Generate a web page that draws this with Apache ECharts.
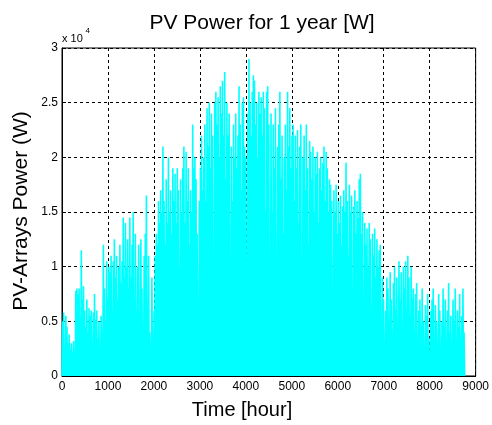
<!DOCTYPE html>
<html>
<head>
<meta charset="utf-8">
<script src="https://cdn.jsdelivr.net/npm/echarts@6/dist/echarts.min.js"></script>
<style>html,body{margin:0;padding:0;background:#fff}#c{width:492px;height:425px}</style>
</head>
<body>
<div id="c"></div>
<script>
// Daily peak PV power, in units of 10^4 W (day 0 .. 364)
var peaksDays000_061 = [0.5,0.58,0.25,0.55,0.45,0.3,0.38,0.25,0.3,0.22,0.32,0.18,0.78,0.8,0.75,0.8,0.55,1.15,0.7,0.82,0.6,0.45,0.7,0.4,0.62,0.55,0.6,0.3,0.58,0.75,0.52,0.6,0.35,0.5,0.25,0.55,0.4,1.2,0.8,0.5,1.05,0.7,1.0,0.95,1.1,0.6,1.05,1.25,0.9,1.1,0.7,1.0,1.2,0.85,1.05,1.45,0.9,1.4,1.0,1.25,0.8,1.45];
var peaksDays062_124 = [0.9,1.2,1.5,0.7,1.3,0.6,1.0,1.2,0.5,1.25,0.8,0.45,1.1,1.3,1.65,0.5,1.1,0.4,0.25,0.9,0.3,0.6,1.1,1.3,1.2,1.6,1.4,1.7,1.5,2.1,1.6,1.2,1.8,1.4,2.0,1.5,1.7,1.3,1.9,1.6,1.85,1.4,1.9,1.7,1.0,1.8,1.5,1.9,2.1,1.4,2.05,1.6,1.9,1.2,1.7,1.5,2.3,1.9,2.0,1.8,1.3,0.55,1.6];
var peaksDays125_187 = [1.9,2.2,1.7,2.0,2.3,1.6,2.45,2.1,2.5,1.9,2.4,2.2,1.0,2.5,2.6,2.3,2.55,2.0,2.65,2.4,2.7,2.2,2.78,1.8,2.5,2.2,2.4,1.0,2.1,1.6,2.3,2.0,2.4,1.9,2.2,2.65,2.3,1.7,2.5,2.55,2.1,2.0,0.55,2.4,2.9,2.5,2.2,2.6,2.75,2.7,2.3,2.5,2.0,2.6,2.4,2.55,2.2,2.6,2.45,1.5,2.6,2.65,2.3];
var peaksDays188_250 = [0.45,2.4,1.5,2.3,1.9,2.45,0.9,2.1,2.3,2.6,1.8,2.2,1.3,2.0,2.3,1.7,2.6,2.1,2.45,1.9,2.2,2.3,1.6,2.2,1.9,2.25,1.4,2.1,2.3,1.1,2.0,2.2,1.7,2.3,1.9,1.2,2.15,2.05,1.8,2.1,1.5,2.0,1.85,2.05,1.4,1.9,2.0,1.7,1.95,2.1,1.6,2.05,1.9,1.5,1.8,1.75,1.6,0.35,1.7,1.5,1.75,1.3,1.6];
var peaksDays251_313 = [1.4,1.65,1.2,1.55,1.7,1.5,1.95,1.6,1.1,1.75,1.5,1.65,0.8,1.55,1.7,1.3,1.6,1.45,1.8,1.85,1.3,1.5,0.6,1.4,1.2,1.35,1.0,1.4,1.25,0.5,1.3,1.1,1.35,0.9,1.25,1.0,1.15,1.2,0.4,0.9,0.7,0.25,0.6,0.9,0.8,0.5,0.95,0.7,0.3,0.85,1.0,0.6,0.9,0.4,1.05,0.7,0.95,0.3,1.0,0.8,1.05,0.6,1.1];
var peaksDays314_364 = [0.9,0.55,1.0,0.7,0.8,0.4,0.75,0.85,0.3,0.6,0.7,0.45,0.8,0.5,0.25,0.65,0.55,0.75,0.35,0.1,0.6,0.7,0.8,0.35,0.65,0.5,0.3,0.75,0.6,0.2,0.5,0.8,0.45,0.7,0.3,0.6,0.85,0.4,0.55,0.25,0.7,0.5,0.8,0.3,0.6,0.45,0.75,0.35,0.55,0.8,0.4];

var xTicks = [0,1000,2000,3000,4000,5000,6000,7000,8000,9000];
var yTicks = [0,0.5,1,1.5,2,2.5,3];

var dailyPeaks = [].concat(peaksDays000_061, peaksDays062_124, peaksDays125_187,
                           peaksDays188_250, peaksDays251_313, peaksDays314_364);
// hourly series: zero at night (start of each day), daily peak at noon
var seriesData = [];
for (var d = 0; d < dailyPeaks.length; d++) {
  seriesData.push([24 * d, 0]);
  seriesData.push([24 * d + 12, dailyPeaks[d]]);
}
seriesData.push([24 * dailyPeaks.length, 0]);

var FONT = "'Liberation Sans', Arial, sans-serif";
var chart = echarts.init(document.getElementById('c'), null, {renderer: 'canvas'});
chart.setOption({
  animation: false,
  backgroundColor: '#fff',
  grid: {left: 62, right: 13, top: 48, bottom: 49, show: true, borderColor: '#000', borderWidth: 1, backgroundColor: 'transparent'},
  xAxis: {
    type: 'value', min: xTicks[0], max: xTicks[xTicks.length - 1], interval: 1000,
    axisLine: {show: true, lineStyle: {color: '#000', width: 1}},
    axisTick: {show: true, inside: true, length: 4, lineStyle: {color: '#000'}},
    axisLabel: {color: '#000', fontSize: 12, fontFamily: FONT, margin: 5, formatter: function (v) { return String(v); }},
    splitLine: {show: true, lineStyle: {color: '#000', type: [3, 3], width: 1}}
  },
  yAxis: {
    type: 'value', min: yTicks[0], max: yTicks[yTicks.length - 1], interval: 0.5,
    axisLine: {show: true, lineStyle: {color: '#000', width: 1}},
    axisTick: {show: true, inside: true, length: 4, lineStyle: {color: '#000'}},
    axisLabel: {color: '#000', fontSize: 12, fontFamily: FONT, margin: 4, formatter: function (v) { return String(v); }},
    splitLine: {show: true, lineStyle: {color: '#000', type: [3, 3], width: 1}}
  },
  series: [{
    type: 'line', data: seriesData, showSymbol: false, symbol: 'none',
    lineStyle: {color: '#00FFFF', width: 1.6, join: 'miter'}, silent: true
  }],
  graphic: [
    {type: 'text', x: 262, y: 23, style: {text: 'PV Power for 1 year [W]', font: '21px ' + FONT, fill: '#000', align: 'center', verticalAlign: 'middle'}},
    {type: 'text', x: 242, y: 410, style: {text: 'Time [hour]', font: '20px ' + FONT, fill: '#000', align: 'center', verticalAlign: 'middle'}},
    {type: 'text', x: 21, y: 211, rotation: Math.PI / 2, style: {text: 'PV-Arrays Power (W)', font: '21px ' + FONT, fill: '#000', align: 'center', verticalAlign: 'middle'}},
    {type: 'text', x: 62, y: 39, style: {text: 'x 10', font: '11px ' + FONT, fill: '#000', align: 'left', verticalAlign: 'middle'}},
    {type: 'text', x: 85.5, y: 31, style: {text: '4', font: '8px ' + FONT, fill: '#000', align: 'left', verticalAlign: 'middle'}}
  ]
});
</script>
</body>
</html>
